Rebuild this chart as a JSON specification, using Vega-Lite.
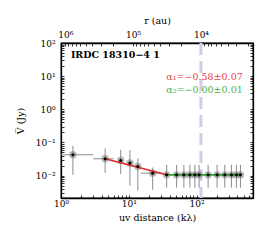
{
  "$schema": "https://vega.github.io/schema/vega-lite/v6.json",
  "width": 192,
  "height": 155,
  "autosize": {"type": "none"},
  "padding": {"left": 61, "top": 43, "right": 12, "bottom": 43},
  "background": "white",
  "datasets": {
    "pts": [
      {"uv": 1.5, "V": 0.0424, "lo": 0.0105, "hi": 0.079, "xlo": 1.0, "xhi": 2.96},
      {"uv": 4.48, "V": 0.032, "lo": 0.012, "hi": 0.066, "xlo": 3.0, "xhi": 5.95},
      {"uv": 7.6, "V": 0.0285, "lo": 0.011, "hi": 0.06, "xlo": 7.6, "xhi": 7.6},
      {"uv": 10.4, "V": 0.0238, "lo": 0.005, "hi": 0.058, "xlo": 10.4, "xhi": 10.4},
      {"uv": 13.6, "V": 0.0187, "lo": 0.0035, "hi": 0.033, "xlo": 13.6, "xhi": 13.6},
      {"uv": 22.5, "V": 0.0118, "lo": 0.0037, "hi": 0.0175, "xlo": 15.0, "xhi": 30.5},
      {"uv": 36.2, "V": 0.0105, "lo": 0.0043, "hi": 0.021, "xlo": 36.2, "xhi": 36.2},
      {"uv": 50.8, "V": 0.0105, "lo": 0.0043, "hi": 0.021, "xlo": 50.8, "xhi": 50.8},
      {"uv": 65, "V": 0.0105, "lo": 0.0043, "hi": 0.021, "xlo": 65, "xhi": 65},
      {"uv": 79.7, "V": 0.0105, "lo": 0.0043, "hi": 0.021, "xlo": 79.7, "xhi": 79.7},
      {"uv": 94.4, "V": 0.0105, "lo": 0.0043, "hi": 0.021, "xlo": 94.4, "xhi": 94.4},
      {"uv": 109, "V": 0.0105, "lo": 0.0043, "hi": 0.021, "xlo": 109, "xhi": 109},
      {"uv": 148, "V": 0.0105, "lo": 0.0043, "hi": 0.021, "xlo": 148, "xhi": 148},
      {"uv": 201, "V": 0.0105, "lo": 0.0043, "hi": 0.021, "xlo": 201, "xhi": 201},
      {"uv": 261, "V": 0.0105, "lo": 0.0043, "hi": 0.021, "xlo": 261, "xhi": 261},
      {"uv": 327, "V": 0.0105, "lo": 0.0043, "hi": 0.021, "xlo": 327, "xhi": 327},
      {"uv": 387, "V": 0.0105, "lo": 0.0043, "hi": 0.021, "xlo": 387, "xhi": 387},
      {"uv": 444, "V": 0.0105, "lo": 0.0043, "hi": 0.021, "xlo": 444, "xhi": 444}
    ],
    "fit": [
      {"uv": 4.48, "V": 0.032, "seg": "a1"},
      {"uv": 36.2, "V": 0.0105, "seg": "a1"},
      {"uv": 36.2, "V": 0.0105, "seg": "a2"},
      {"uv": 444, "V": 0.0105, "seg": "a2"}
    ]
  },
  "config": {
    "view": {"stroke": "black", "strokeWidth": 1.3},
    "axis": {
      "labelFont": "DejaVu Serif",
      "titleFont": "DejaVu Serif",
      "labelFontSize": 9,
      "titleFontSize": 9.5,
      "titleFontWeight": "normal",
      "labelColor": "black",
      "titleColor": "black",
      "tickColor": "black",
      "domainColor": "black",
      "domainWidth": 1.3,
      "tickWidth": 0.8,
      "grid": false,
      "labelFlush": false,
      "labelOverlap": false,
      "labelBound": false
    }
  },
  "layer": [
    {
      "data": {"values": [{}]},
      "mark": {"type": "rule", "color": "#d8c8ea", "strokeWidth": 3, "strokeDash": [12, 6]},
      "encoding": {
        "x": {
          "datum": 10000,
          "type": "quantitative",
          "title": "r (au)",
          "scale": {"type": "log", "domain": [1706, 1160000], "reverse": true, "nice": false, "zero": false},
          "axis": {
            "orient": "top",
            "title": "r (au)",
            "values": [2000, 3000, 4000, 5000, 6000, 7000, 8000, 9000, 10000, 20000, 30000, 40000, 50000, 60000, 70000, 80000, 90000, 100000, 200000, 300000, 400000, 500000, 600000, 700000, 800000, 900000, 1000000],
            "labelExpr": "datum.value==10000?'10⁴':datum.value==100000?'10⁵':datum.value==1000000?'10⁶':''",
            "tickSize": -3,
            "labelPadding": 7,
            "titlePadding": 5,
            "encode": {"ticks": {"update": {"y2": {"signal": "indexof([10000,100000,1000000], datum.value) >= 0 ? 5 : 2.5"}}}}
          }
        }
      }
    },
    {
      "data": {"name": "pts"},
      "layer": [
        {
          "mark": {"type": "rule", "color": "#8c8c8c", "strokeWidth": 1},
          "encoding": {
            "x": {
              "field": "uv", "type": "quantitative", "title": "uv distance (kλ)",
              "scale": {"type": "log", "domain": [1, 680], "nice": false, "zero": false},
              "axis": {
                "orient": "bottom",
                "values": [1, 2, 3, 4, 5, 6, 7, 8, 9, 10, 20, 30, 40, 50, 60, 70, 80, 90, 100, 200, 300, 400, 500, 600],
                "labelExpr": "datum.value==1?'10⁰':datum.value==10?'10¹':datum.value==100?'10²':''",
                "tickSize": -3,
                "labelPadding": 4,
                "titlePadding": 4,
                "encode": {"ticks": {"update": {"y2": {"signal": "indexof([1,10,100], datum.value) >= 0 ? -5 : -2.5"}}}}
              }
            },
            "y": {
              "field": "lo", "type": "quantitative", "title": "V̅ (Jy)",
              "scale": {"type": "log", "domain": [0.0021, 100], "nice": false, "zero": false},
              "axis": {
                "orient": "left",
                "values": [0.003, 0.004, 0.005, 0.006, 0.007, 0.008, 0.009, 0.01, 0.02, 0.03, 0.04, 0.05, 0.06, 0.07, 0.08, 0.09, 0.1, 0.2, 0.3, 0.4, 0.5, 0.6, 0.7, 0.8, 0.9, 1, 2, 3, 4, 5, 6, 7, 8, 9, 10, 20, 30, 40, 50, 60, 70, 80, 90, 100],
                "labelExpr": "datum.value==0.01?'10⁻²':datum.value==0.1?'10⁻¹':datum.value==1?'10⁰':datum.value==10?'10¹':datum.value==100?'10²':''",
                "tickSize": -3,
                "labelPadding": 9,
                "titlePadding": 10,
                "encode": {"ticks": {"update": {"x2": {"signal": "indexof([0.01,0.1,1,10,100], datum.value) >= 0 ? 5 : 2.5"}}}}
              }
            },
            "y2": {"field": "hi"}
          }
        },
        {
          "mark": {"type": "rule", "color": "#8c8c8c", "strokeWidth": 1},
          "encoding": {
            "x": {"field": "xlo", "type": "quantitative", "title": "uv distance (kλ)"},
            "x2": {"field": "xhi"},
            "y": {"field": "V", "type": "quantitative", "title": "V̅ (Jy)"}
          }
        },
        {
          "mark": {"type": "point", "filled": true, "color": "#7a7a7a", "opacity": 0.55, "size": 55},
          "encoding": {
            "x": {"field": "uv", "type": "quantitative", "title": "uv distance (kλ)"},
            "y": {"field": "V", "type": "quantitative", "title": "V̅ (Jy)"}
          }
        },
        {
          "data": {"name": "fit"},
          "mark": {"type": "line", "strokeWidth": 1.6},
          "encoding": {
            "x": {"field": "uv", "type": "quantitative", "title": "uv distance (kλ)"},
            "y": {"field": "V", "type": "quantitative", "title": "V̅ (Jy)"},
            "color": {"field": "seg", "type": "nominal", "scale": {"domain": ["a1", "a2"], "range": ["#e3262b", "#2e9e2e"]}, "legend": null}
          }
        },
        {
          "mark": {"type": "point", "filled": true, "color": "black", "opacity": 1, "size": 10},
          "encoding": {
            "x": {"field": "uv", "type": "quantitative", "title": "uv distance (kλ)"},
            "y": {"field": "V", "type": "quantitative", "title": "V̅ (Jy)"}
          }
        },
        {
          "data": {"values": [{}]},
          "mark": {"type": "text", "text": "IRDC 18310−4 1", "align": "left", "baseline": "middle", "font": "DejaVu Serif", "fontWeight": "bold", "fontSize": 9.5, "color": "black"},
          "encoding": {
            "x": {"datum": 1.4, "type": "quantitative", "title": "uv distance (kλ)"},
            "y": {"datum": 44, "type": "quantitative", "title": "V̅ (Jy)"}
          }
        },
        {
          "data": {"values": [{}]},
          "mark": {"type": "text", "text": "α₁=−0.58±0.07", "align": "right", "baseline": "middle", "font": "DejaVu Serif", "fontSize": 9.5, "color": "#e8454f"},
          "encoding": {
            "x": {"datum": 480, "type": "quantitative", "title": "uv distance (kλ)"},
            "y": {"datum": 9.6, "type": "quantitative", "title": "V̅ (Jy)"}
          }
        },
        {
          "data": {"values": [{}]},
          "mark": {"type": "text", "text": "α₂=−0.00±0.01", "align": "right", "baseline": "middle", "font": "DejaVu Serif", "fontSize": 9.5, "color": "#4cb24c"},
          "encoding": {
            "x": {"datum": 480, "type": "quantitative", "title": "uv distance (kλ)"},
            "y": {"datum": 3.8, "type": "quantitative", "title": "V̅ (Jy)"}
          }
        }
      ]
    },
    {
      "data": {"values": [{}]},
      "mark": {"type": "rule", "opacity": 0},
      "encoding": {
        "y": {
          "datum": 0.01,
          "type": "quantitative",
          "title": null,
          "scale": {"type": "log", "domain": [0.0021, 100], "nice": false, "zero": false},
          "axis": {
            "orient": "right",
            "title": null,
            "labels": false,
            "values": [0.003, 0.004, 0.005, 0.006, 0.007, 0.008, 0.009, 0.01, 0.02, 0.03, 0.04, 0.05, 0.06, 0.07, 0.08, 0.09, 0.1, 0.2, 0.3, 0.4, 0.5, 0.6, 0.7, 0.8, 0.9, 1, 2, 3, 4, 5, 6, 7, 8, 9, 10, 20, 30, 40, 50, 60, 70, 80, 90, 100],
            "tickSize": -3,
            "encode": {"ticks": {"update": {"x2": {"signal": "indexof([0.01,0.1,1,10,100], datum.value) >= 0 ? -5 : -2.5"}}}}
          }
        }
      }
    }
  ],
  "resolve": {"scale": {"x": "independent"}, "axis": {"x": "independent", "y": "independent"}}
}
